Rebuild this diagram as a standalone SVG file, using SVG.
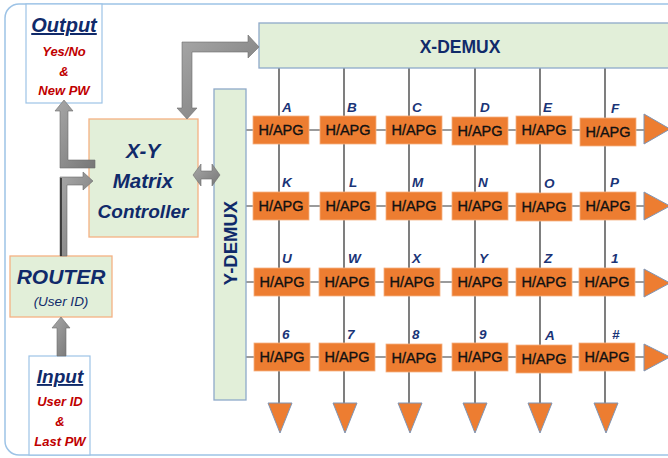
<svg xmlns="http://www.w3.org/2000/svg" width="668" height="458" viewBox="0 0 668 458">
<defs>
<style>
.frame{fill:none;stroke:#9dc3e6;stroke-width:1.5}
.io{fill:#ffffff;stroke:#9dc3e6;stroke-width:1.2}
.ctl{fill:#e2efd9;stroke:#f4b183;stroke-width:1.3}
.dmx{fill:#e2efd9;stroke:#8ea9c9;stroke-width:1.3}
.hap{fill:#ed7d31;stroke:#f4b183;stroke-width:0.8}
.tri{fill:#ed7d31;stroke:#7f95b5;stroke-width:1}
.vl{stroke:#3a3a3a;stroke-width:1.3}
.hl{stroke:#7a7a7a;stroke-width:1.3}
.arw{fill:url(#ag);stroke:#6b6b6b;stroke-width:0.6}
text{font-family:"Liberation Sans",Arial,sans-serif}
.ttl{font-weight:bold;font-style:italic;fill:#102a6a}
.red{font-weight:bold;font-style:italic;fill:#c00000;font-size:13px;text-anchor:middle}
.hapt{font-size:14.5px;fill:#111111;stroke:#111111;stroke-width:0.35;text-anchor:middle}
.lbl{font-weight:bold;font-style:italic;fill:#1a3477;font-size:13.5px}
.mid{text-anchor:middle}
</style>
<linearGradient id="ag" x1="0" y1="0" x2="1" y2="1">
<stop offset="0" stop-color="#a8a8a8"/>
<stop offset="1" stop-color="#777777"/>
</linearGradient>
</defs>

<rect class="frame" x="5" y="4" width="680" height="451" rx="14"/>

<g id="connectors">
<g id="grid-lines">
<line class="vl" x1="279" y1="68" x2="279" y2="403"/>
<line class="vl" x1="344" y1="68" x2="344" y2="403"/>
<line class="vl" x1="409" y1="68" x2="409" y2="403"/>
<line class="vl" x1="475" y1="68" x2="475" y2="403"/>
<line class="vl" x1="540" y1="68" x2="540" y2="403"/>
<line class="vl" x1="605" y1="68" x2="605" y2="403"/>
<line class="hl" x1="246" y1="130" x2="644" y2="130"/>
<line class="hl" x1="246" y1="206" x2="644" y2="206"/>
<line class="hl" x1="246" y1="282" x2="644" y2="282"/>
<line class="hl" x1="246" y1="357" x2="644" y2="357"/>
</g>
</g>

<g id="output">
<rect class="io" x="26" y="4" width="76" height="99"/>
<text class="ttl mid" x="64" y="32" font-size="20" text-decoration="underline">Output</text>
<text class="red" x="64" y="56">Yes/No</text>
<text class="red" x="64" y="76">&amp;</text>
<text class="red" x="64" y="95">New PW</text>
</g>

<g id="controller">
<rect class="ctl" x="89" y="119" width="109" height="118"/>
<text class="ttl mid" x="143" y="158" font-size="20.5">X-Y</text>
<text class="ttl mid" x="143" y="188" font-size="20.5">Matrix</text>
<text class="ttl mid" x="143" y="218" font-size="19">Controller</text>
</g>

<g id="router">
<rect class="ctl" x="10" y="256" width="102" height="61"/>
<text class="ttl mid" x="61" y="284" font-size="21">ROUTER</text>
<text class="mid" x="61" y="306" font-size="13.5" font-style="italic" fill="#102a6a">(User ID)</text>
</g>

<g id="input">
<rect class="io" x="29" y="356" width="61" height="99"/>
<text class="ttl mid" x="60" y="383" font-size="19" text-decoration="underline">Input</text>
<text class="red" x="60" y="406">User ID</text>
<text class="red" x="60" y="426">&amp;</text>
<text class="red" x="60" y="446" font-size="12">Last PW</text>
</g>

<g id="x-demux">
<rect class="dmx" x="259" y="23" width="420" height="45"/>
<text class="mid" x="460" y="53" font-size="17.5" font-weight="bold" fill="#102a6a">X-DEMUX</text>
</g>

<g id="y-demux">
<rect class="dmx" x="214" y="89" width="32" height="311"/>
<text class="mid" transform="translate(237 243) rotate(-90)" font-size="18.5" font-weight="bold" fill="#102a6a">Y-DEMUX</text>
</g>

<g id="arrows">
<polygon class="arw" points="57,356 57,328 52,328 61,317 70,328 66,328 66,356"/>
<polygon class="arw" points="60,256 60,177 83,177 83,172 93,181 83,190 83,185 67,185 67,256"/>
<line x1="61" y1="256" x2="61" y2="178" stroke="#222" stroke-width="1.5"/>
<polygon class="arw" points="95,160 68,160 68,111 73,111 64,100 55,111 60,111 60,168 95,168"/>
<polygon class="arw" points="182,42 248,42 248,35 259,47 248,58 248,52 192,52 192,108 197,108 187,119 177,108 182,108"/>
<polygon class="arw" points="193,175 201,164 201,171 212,171 212,164 220,175 212,186 212,179 201,179 201,186"/>
</g>

<g id="cell-A1"><rect class="hap" x="253" y="116" width="56" height="28"/><text class="hapt" x="281" y="135">H/APG</text><text class="lbl" x="282" y="112">A</text></g>
<g id="cell-B"><rect class="hap" x="320" y="116" width="56" height="28"/><text class="hapt" x="348" y="135">H/APG</text><text class="lbl" x="347" y="112">B</text></g>
<g id="cell-C"><rect class="hap" x="386" y="116" width="56" height="28"/><text class="hapt" x="414" y="135">H/APG</text><text class="lbl" x="412" y="112">C</text></g>
<g id="cell-D"><rect class="hap" x="452" y="117" width="56" height="28"/><text class="hapt" x="480" y="136">H/APG</text><text class="lbl" x="480" y="112">D</text></g>
<g id="cell-E"><rect class="hap" x="516" y="116" width="56" height="28"/><text class="hapt" x="544" y="135">H/APG</text><text class="lbl" x="543" y="112">E</text></g>
<g id="cell-F"><rect class="hap" x="580" y="118" width="56" height="28"/><text class="hapt" x="608" y="137">H/APG</text><text class="lbl" x="611" y="113">F</text></g>

<g id="cell-K"><rect class="hap" x="253" y="192" width="56" height="28"/><text class="hapt" x="281" y="211">H/APG</text><text class="lbl" x="282" y="187">K</text></g>
<g id="cell-L"><rect class="hap" x="320" y="192" width="56" height="28"/><text class="hapt" x="348" y="211">H/APG</text><text class="lbl" x="349" y="187">L</text></g>
<g id="cell-M"><rect class="hap" x="386" y="192" width="56" height="28"/><text class="hapt" x="414" y="211">H/APG</text><text class="lbl" x="412" y="187">M</text></g>
<g id="cell-N"><rect class="hap" x="452" y="192" width="56" height="28"/><text class="hapt" x="480" y="211">H/APG</text><text class="lbl" x="478" y="187">N</text></g>
<g id="cell-O"><rect class="hap" x="516" y="193" width="56" height="28"/><text class="hapt" x="544" y="212">H/APG</text><text class="lbl" x="544" y="188">O</text></g>
<g id="cell-P"><rect class="hap" x="580" y="192" width="56" height="28"/><text class="hapt" x="608" y="211">H/APG</text><text class="lbl" x="610" y="187">P</text></g>

<g id="cell-U"><rect class="hap" x="254" y="268" width="56" height="28"/><text class="hapt" x="282" y="287">H/APG</text><text class="lbl" x="282" y="263">U</text></g>
<g id="cell-W"><rect class="hap" x="319" y="268" width="56" height="28"/><text class="hapt" x="347" y="287">H/APG</text><text class="lbl" x="348" y="263">W</text></g>
<g id="cell-X"><rect class="hap" x="384" y="268" width="56" height="28"/><text class="hapt" x="412" y="287">H/APG</text><text class="lbl" x="412" y="263">X</text></g>
<g id="cell-Y"><rect class="hap" x="452" y="268" width="56" height="28"/><text class="hapt" x="480" y="287">H/APG</text><text class="lbl" x="479" y="263">Y</text></g>
<g id="cell-Z"><rect class="hap" x="516" y="268" width="56" height="28"/><text class="hapt" x="544" y="287">H/APG</text><text class="lbl" x="544" y="263">Z</text></g>
<g id="cell-1"><rect class="hap" x="579" y="268" width="56" height="28"/><text class="hapt" x="607" y="287">H/APG</text><text class="lbl" x="611" y="263">1</text></g>

<g id="cell-6"><rect class="hap" x="254" y="343" width="56" height="28"/><text class="hapt" x="282" y="362">H/APG</text><text class="lbl" x="282" y="339">6</text></g>
<g id="cell-7"><rect class="hap" x="319" y="343" width="56" height="28"/><text class="hapt" x="347" y="362">H/APG</text><text class="lbl" x="347" y="339">7</text></g>
<g id="cell-8"><rect class="hap" x="386" y="344" width="56" height="28"/><text class="hapt" x="414" y="363">H/APG</text><text class="lbl" x="412" y="339">8</text></g>
<g id="cell-9"><rect class="hap" x="452" y="343" width="56" height="28"/><text class="hapt" x="480" y="362">H/APG</text><text class="lbl" x="479" y="339">9</text></g>
<g id="cell-A2"><rect class="hap" x="516" y="345" width="56" height="28"/><text class="hapt" x="544" y="364">H/APG</text><text class="lbl" x="545" y="340">A</text></g>
<g id="cell-hash"><rect class="hap" x="579" y="343" width="56" height="28"/><text class="hapt" x="607" y="362">H/APG</text><text class="lbl" x="612" y="339">#</text></g>

<g id="out-right">
<polygon class="tri" points="644,114 644,144 670,129"/>
<polygon class="tri" points="644,192 644,220 670,206"/>
<polygon class="tri" points="644,269 644,297 670,283"/>
<polygon class="tri" points="644,344 644,371 670,357"/>
</g>
<g id="out-bottom">
<polygon class="tri" points="268,403 292,403 280,433"/>
<polygon class="tri" points="333,403 357,403 345,433"/>
<polygon class="tri" points="398,403 422,403 410,433"/>
<polygon class="tri" points="463,403 487,403 475,433"/>
<polygon class="tri" points="528,403 552,403 540,433"/>
<polygon class="tri" points="594,403 618,403 606,433"/>
</g>
</svg>
